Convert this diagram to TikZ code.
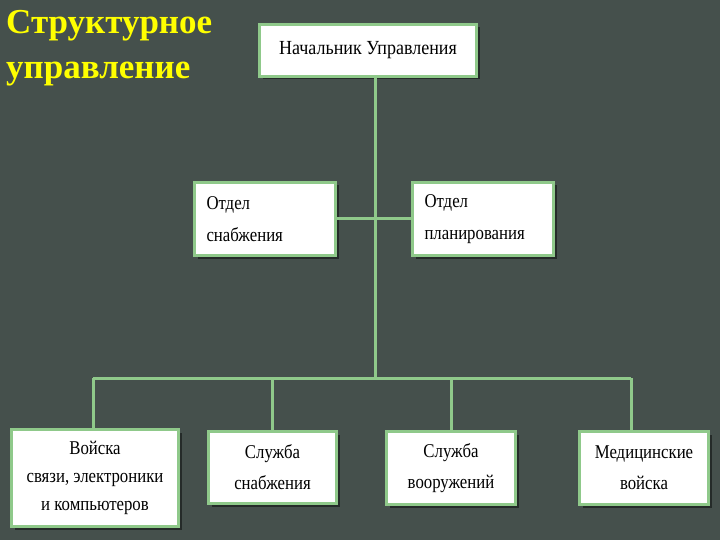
\documentclass[tikz,border=0pt]{standalone}
\usepackage{fontspec}
\setmainfont{Liberation Serif}
\newfontfamily\boxfont[FakeStretch=0.86]{Liberation Serif}
\newfontfamily\headfont[FakeStretch=0.9]{Liberation Serif}
\usetikzlibrary{shadows}
\definecolor{bgdark}{RGB}{69,80,76}
\definecolor{linegreen}{RGB}{143,201,138}
\definecolor{titleyellow}{RGB}{255,255,0}
\begin{document}
\begin{tikzpicture}[x=1pt, y=-1pt,
    unit/.style={draw=linegreen, line width=3pt, fill=white, font=\boxfont\fontsize{19.5}{31}\selectfont,
        drop shadow={shadow xshift=3pt, shadow yshift=-3pt, fill=black, opacity=0.45}},
    link/.style={draw=linegreen, line width=3pt}]
    % Pozadi
    \fill[bgdark] (0,0) rectangle (720,540);

    % Nadpis
    \node[anchor=north west, align=left, text=titleyellow, font=\bfseries\fontsize{35}{45}\selectfont, inner sep=0pt] (title) at (6,10) {Структурное\\управление};

    % Spojeni (pod boxy)
    \coordinate (trunk) at (375,378);
    \coordinate (busL) at (93,378);
    \coordinate (busR) at (631,378);

    % Vedeni
    \node[unit, minimum width=217pt, minimum height=52pt, font=\headfont\fontsize{20}{24}\selectfont] (chief) at (368,50.5) {Начальник Управления};

    % Oddeleni
    \node[unit, minimum width=141pt, minimum height=73pt, text width=117pt, align=left, font=\boxfont\fontsize{19.5}{32}\selectfont] (supplyDept) at (265,219) {Отдел\\снабжения};
    \node[unit, minimum width=141pt, minimum height=73pt, text width=117pt, align=left, font=\boxfont\fontsize{19.5}{32}\selectfont] (planDept) at (483,219) {Отдел\\планирования};

    % Sluzby a vojska
    \node[unit, minimum width=167pt, minimum height=97pt, align=center, font=\boxfont\fontsize{19.5}{28}\selectfont] (signalTroops) at (95,478) {Войска\\связи, электроники\\и компьютеров};
    \node[unit, minimum width=128pt, minimum height=72pt, align=center] (supplySvc) at (272.5,467.5) {Служба\\снабжения};
    \node[unit, minimum width=129pt, minimum height=73pt, align=center] (armsSvc) at (451,468) {Служба\\вооружений};
    \node[unit, minimum width=129pt, minimum height=73pt, align=center] (medTroops) at (644,468) {Медицинские\\войска};

    % Cary
    \draw[link] (chief.south -| trunk) -- (trunk);
    \draw[link] (supplyDept.east) -- (planDept.west);
    \draw[link] (busL) -- (busR);
    \draw[link] (busL) -- (busL |- signalTroops.north);
    \draw[link] (supplySvc.north |- trunk) -- (supplySvc.north);
    \draw[link] (armsSvc.north |- trunk) -- (armsSvc.north);
    \draw[link] (busR) -- (busR |- medTroops.north);
\end{tikzpicture}
\end{document}
